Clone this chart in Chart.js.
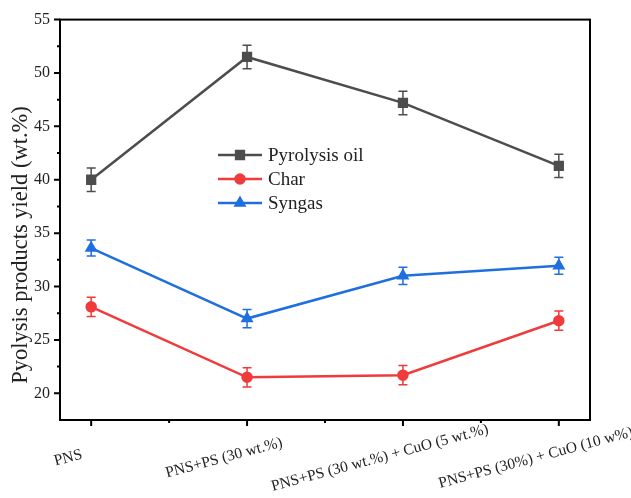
<!DOCTYPE html>
<html>
<head>
<meta charset="utf-8">
<script src="https://cdn.jsdelivr.net/npm/chart.js@4/dist/chart.umd.min.js"></script>
<style>
    body { margin: 0; background: #fff; }
    #wrap { width: 631px; height: 498px; }
</style>
</head>
<body>
<div id="wrap"><canvas id="grafico-linha" width="631" height="498"></canvas></div>
<script>
const CATEGORIAS = ['PNS', 'PNS+PS (30 wt.%)', 'PNS+PS (30 wt.%) + CuO (5 wt.%)', 'PNS+PS (30%) + CuO (10 w%)'];

const oil = [40.0, 51.5, 47.2, 41.3];
const oilErr = [1.1, 1.1, 1.1, 1.1];
const charVals = [28.1, 21.5, 21.7, 26.8];
const charErr = [0.9, 0.9, 0.9, 0.9];
const syngas = [33.6, 27.0, 31.0, 31.95];
const syngasErr = [0.75, 0.85, 0.8, 0.8];

const Y_TICKS = [20, 25, 30, 35, 40, 45, 50, 55];
const Y_TITLE = 'Pyolysis products yield (wt.%)';

const SERIF = '"Liberation Serif", "Times New Roman", serif';
const TEXT = '#222';

function pontos(vals) {
    return vals.map((v, i) => ({ x: i, y: v }));
}

// error bars, frame, ticks, rotated labels and the legend
const extras = {
    id: 'extras',
    beforeDatasetsDraw(chart) {
        const ctx = chart.ctx;
        const xs = chart.scales.x;
        const ys = chart.scales.y;
        chart.data.datasets.forEach(ds => {
            ctx.save();
            ctx.strokeStyle = ds.borderColor;
            ctx.lineWidth = 1.5;
            ds.data.forEach((p, i) => {
                const x = xs.getPixelForValue(p.x);
                const t = ys.getPixelForValue(p.y + ds.err[i]);
                const b = ys.getPixelForValue(p.y - ds.err[i]);
                ctx.beginPath();
                ctx.moveTo(x, t); ctx.lineTo(x, b);
                ctx.moveTo(x - 4.5, t); ctx.lineTo(x + 4.5, t);
                ctx.moveTo(x - 4.5, b); ctx.lineTo(x + 4.5, b);
                ctx.stroke();
            });
            ctx.restore();
        });
    },
    afterDraw(chart) {
        const ctx = chart.ctx;
        const a = chart.chartArea;
        const xs = chart.scales.x;
        const ys = chart.scales.y;
        ctx.save();

        // frame
        ctx.strokeStyle = '#000';
        ctx.lineWidth = 2;
        ctx.strokeRect(a.left, a.top, a.right - a.left, a.bottom - a.top);

        // y ticks (major + minor), outward
        ctx.beginPath();
        Y_TICKS.forEach(v => {
            const y = ys.getPixelForValue(v);
            ctx.moveTo(a.left, y); ctx.lineTo(a.left - 6, y);
            const m = ys.getPixelForValue(v + 2.5);
            if (v + 2.5 < 55) { ctx.moveTo(a.left, m); ctx.lineTo(a.left - 3, m); }
        });
        // x ticks
        CATEGORIAS.forEach((c, i) => {
            const x = xs.getPixelForValue(i);
            ctx.moveTo(x, a.bottom); ctx.lineTo(x, a.bottom + 6);
            if (i < CATEGORIAS.length - 1) {
                const m = xs.getPixelForValue(i + 0.5);
                ctx.moveTo(m, a.bottom); ctx.lineTo(m, a.bottom + 3);
            }
        });
        ctx.stroke();

        // rotated category labels
        ctx.fillStyle = TEXT;
        ctx.font = '15.5px ' + SERIF;
        ctx.textAlign = 'center';
        ctx.textBaseline = 'middle';
        CATEGORIAS.forEach((c, i) => {
            const x = xs.getPixelForValue(i) - 23;
            ctx.save();
            ctx.translate(x, a.bottom + 38);
            ctx.rotate(-15 * Math.PI / 180);
            ctx.fillText(c, 0, 0);
            ctx.restore();
        });

        // y title
        ctx.save();
        ctx.font = '22.5px ' + SERIF;
        ctx.translate(21, 245);
        ctx.rotate(-Math.PI / 2);
        ctx.fillText(Y_TITLE, 0, 0);
        ctx.restore();

        // legend
        ctx.font = '19px ' + SERIF;
        ctx.textAlign = 'left';
        chart.data.datasets.forEach((ds, k) => {
            const y = 155 + k * 24;
            ctx.strokeStyle = ds.borderColor;
            ctx.fillStyle = ds.borderColor;
            ctx.lineWidth = 2.5;
            ctx.beginPath();
            ctx.moveTo(218, y); ctx.lineTo(262, y);
            ctx.stroke();
            Chart.helpers.drawPoint(ctx, { pointStyle: ds.pointStyle, radius: ds.pointRadius, rotation: 0, borderWidth: 1 }, 240, y);
            ctx.fillStyle = TEXT;
            ctx.fillText(ds.label, 268, y + 1);
        });

        ctx.restore();
    }
};

const CHART = document.getElementById('grafico-linha');
const grafico = new Chart(CHART, {
    type: 'line',
    data: {
        datasets: [
            {
                label: 'Pyrolysis oil',
                data: pontos(oil),
                err: oilErr,
                borderColor: '#4d4d4d',
                backgroundColor: '#4d4d4d',
                pointStyle: 'rect',
                pointRadius: 5.5,
                borderWidth: 2.5,
            },
            {
                label: 'Char',
                data: pontos(charVals),
                err: charErr,
                borderColor: '#ef3b3b',
                backgroundColor: '#ef3b3b',
                pointStyle: 'circle',
                pointRadius: 4.5,
                borderWidth: 2.5,
            },
            {
                label: 'Syngas',
                data: pontos(syngas),
                err: syngasErr,
                borderColor: '#1f6fdf',
                backgroundColor: '#1f6fdf',
                pointStyle: 'triangle',
                pointRadius: 5,
                borderWidth: 2.5,
            }
        ]
    },
    options: {
        responsive: false,
        animation: false,
        layout: { padding: { top: 18, right: 41, left: 0, bottom: 0 } },
        plugins: {
            legend: { display: false },
            tooltip: { enabled: false }
        },
        scales: {
            x: {
                type: 'linear',
                min: -0.2,
                max: 3.2,
                grid: { display: false, drawTicks: false },
                border: { display: false },
                ticks: { display: false },
                afterFit(scale) { scale.height = 78; }
            },
            y: {
                min: 17.5,
                max: 55,
                grid: { display: false, drawTicks: false },
                border: { display: false },
                ticks: {
                    padding: 10,
                    color: TEXT,
                    font: { family: SERIF, size: 16 }
                },
                afterBuildTicks(scale) {
                    scale.ticks = Y_TICKS.map(v => ({ value: v }));
                },
                afterFit(scale) { scale.width = 60; }
            }
        }
    },
    plugins: [extras]
});
</script>
</body>
</html>
